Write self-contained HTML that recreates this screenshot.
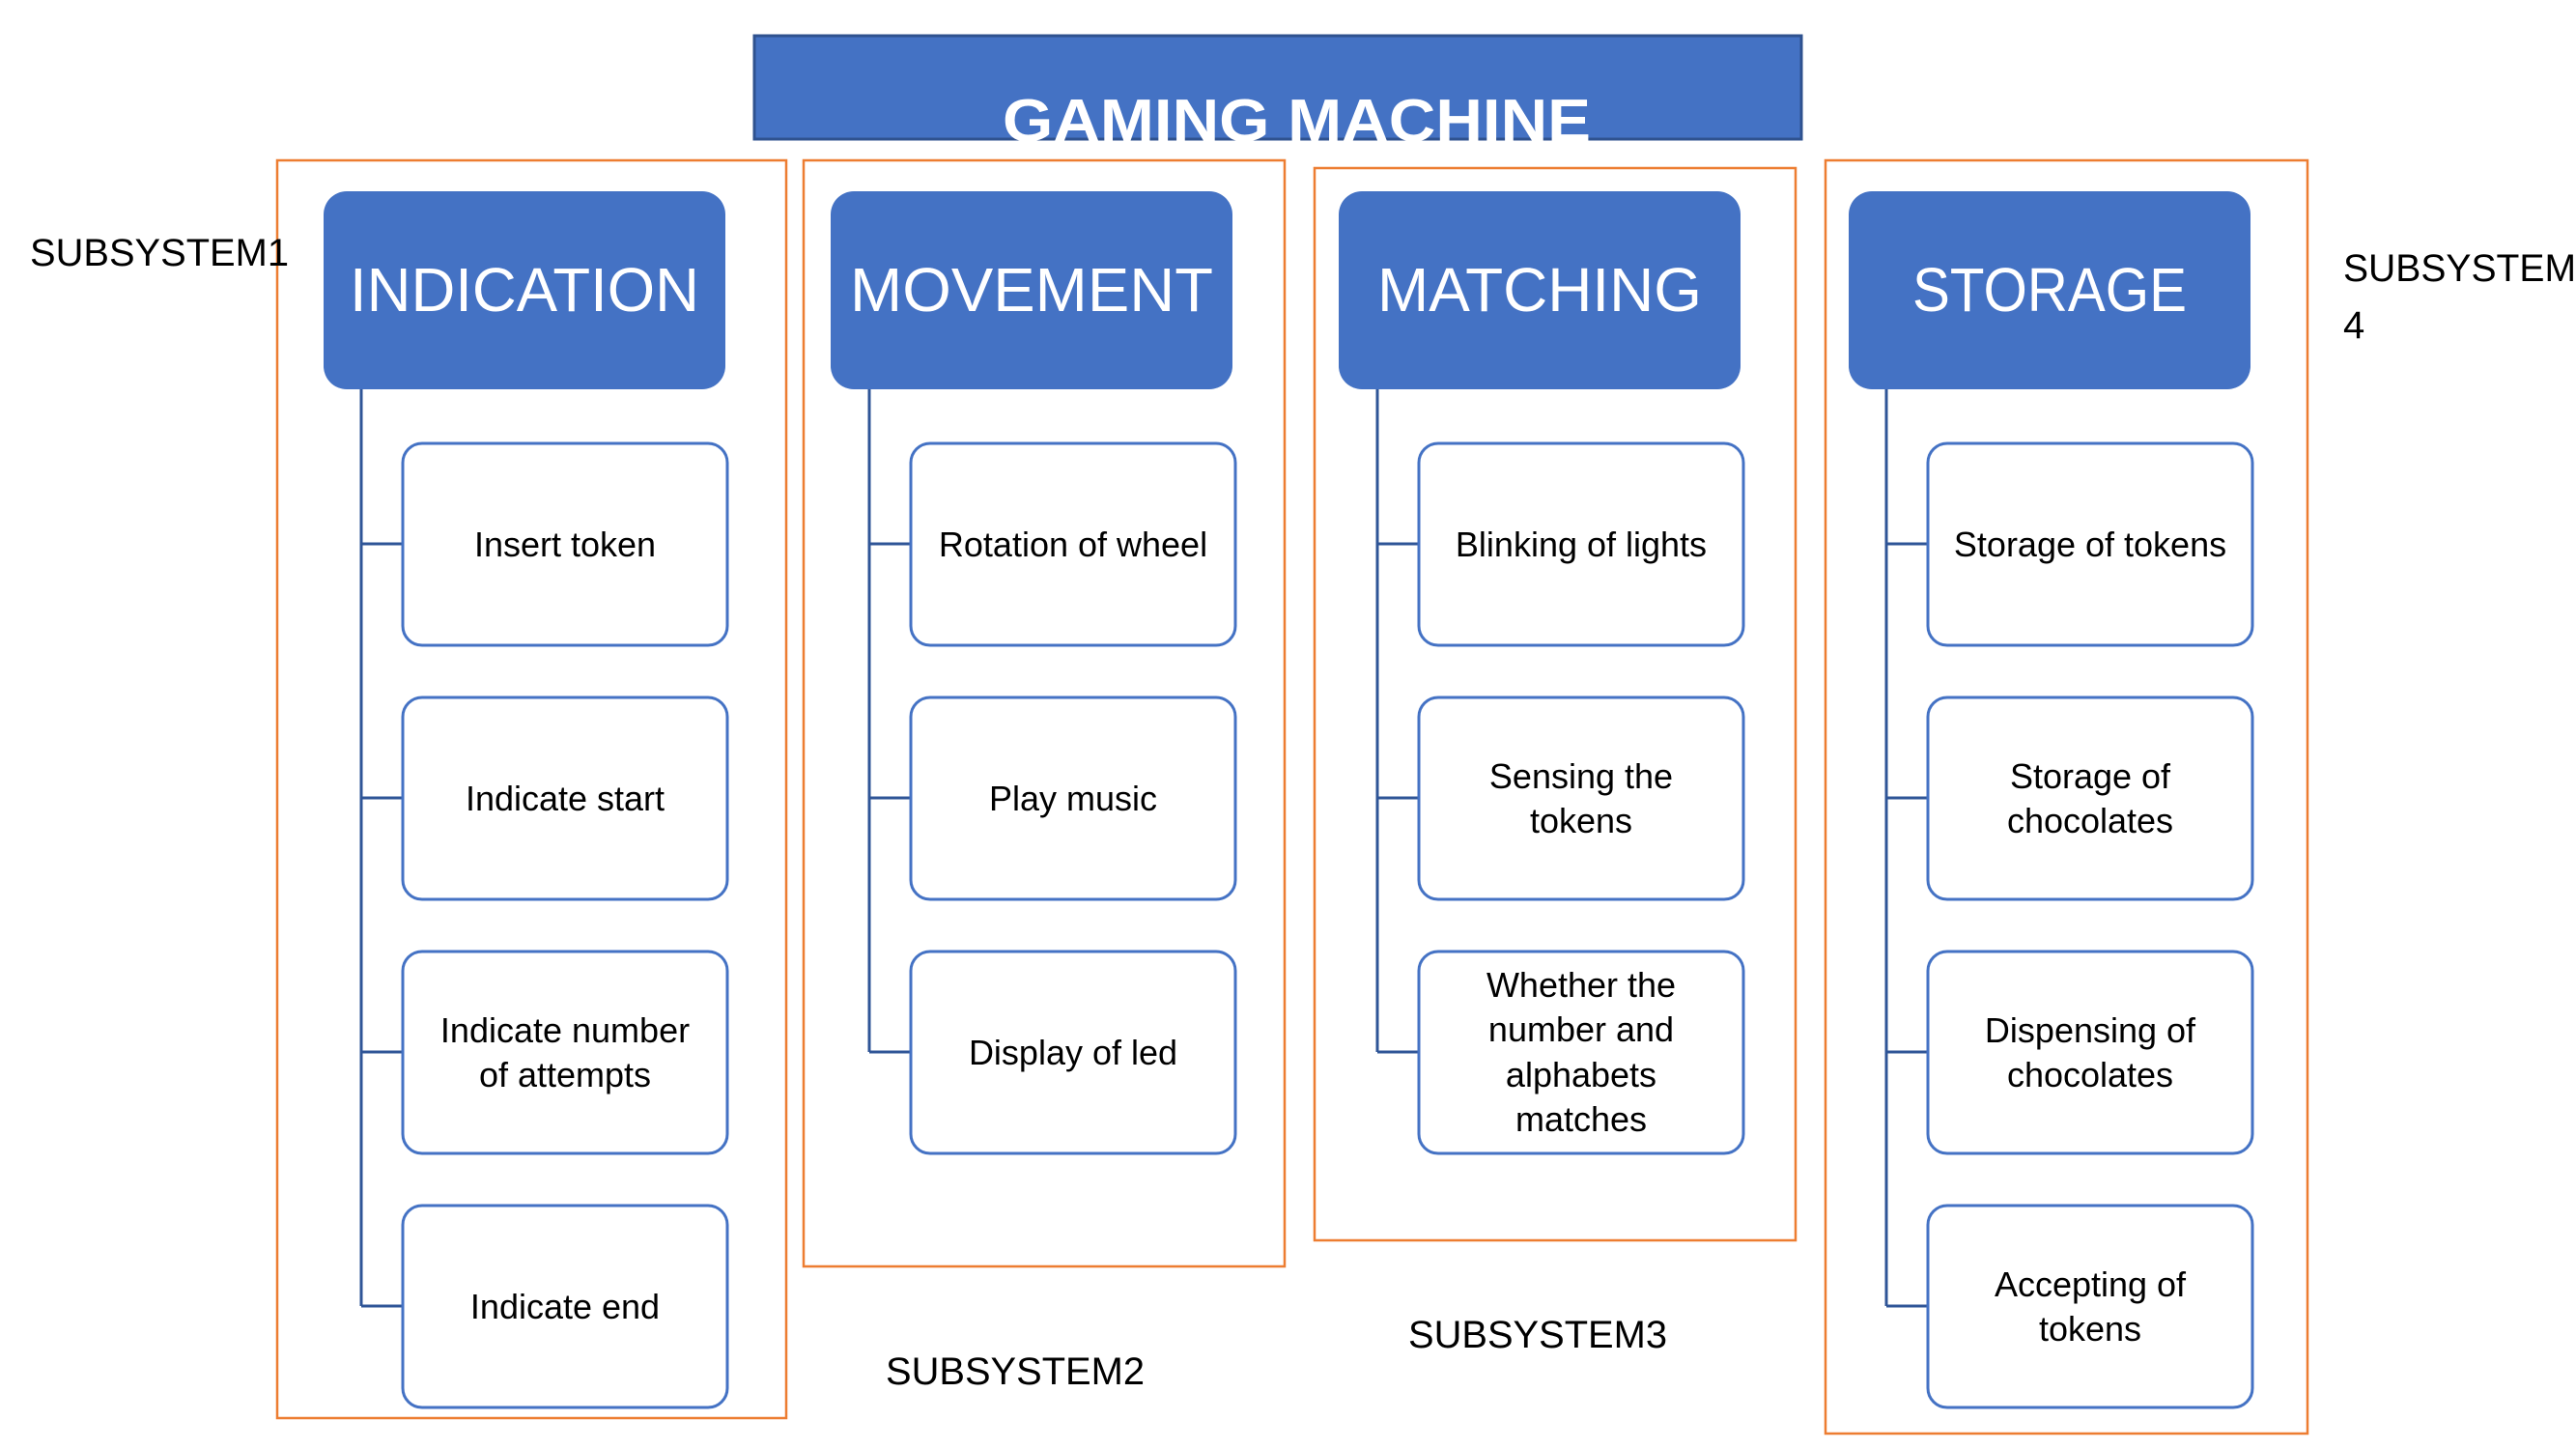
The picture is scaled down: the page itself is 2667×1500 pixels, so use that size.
<!DOCTYPE html>
<html><head><meta charset="utf-8"><style>html,body{margin:0;padding:0;background:#fff}svg{display:block}</style></head>
<body>
<svg width="2667" height="1500" viewBox="0 0 2667 1500" xmlns="http://www.w3.org/2000/svg" font-family="'Liberation Sans', sans-serif">
<defs><clipPath id="tc"><rect x="780" y="36" width="1086" height="110"/></clipPath></defs>
<rect x="781" y="37" width="1084" height="107" fill="#4472C4" stroke="#2F528F" stroke-width="3"/>
<text x="1038" y="146" font-size="62" font-weight="bold" fill="#fff" textLength="609" lengthAdjust="spacingAndGlyphs" clip-path="url(#tc)">GAMING MACHINE</text>

<g fill="none" stroke="#ED7D31" stroke-width="2.5">
<rect x="287" y="166" width="527" height="1302"/>
<rect x="832" y="166" width="498" height="1145"/>
<rect x="1361" y="174" width="498" height="1110"/>
<rect x="1890" y="166" width="499" height="1318"/>
</g>

<g font-size="40" fill="#000">
<text x="31" y="275" textLength="268" lengthAdjust="spacingAndGlyphs">SUBSYSTEM1</text>
<text x="917" y="1433" textLength="268" lengthAdjust="spacingAndGlyphs">SUBSYSTEM2</text>
<text x="1458" y="1395" textLength="268" lengthAdjust="spacingAndGlyphs">SUBSYSTEM3</text>
<text x="2426" y="291" textLength="241" lengthAdjust="spacingAndGlyphs">SUBSYSTEM</text>
<text x="2426" y="350">4</text>
</g>

<!-- columns -->
<g id="c1">
<rect x="335" y="198" width="416" height="205" rx="24" fill="#4472C4"/>
<text x="543" y="322" font-size="64" fill="#fff" text-anchor="middle" textLength="362" lengthAdjust="spacingAndGlyphs">INDICATION</text>
</g>
<rect x="860" y="198" width="416" height="205" rx="24" fill="#4472C4"/>
<text x="1068" y="322" font-size="64" fill="#fff" text-anchor="middle" textLength="376" lengthAdjust="spacingAndGlyphs">MOVEMENT</text>
<rect x="1386" y="198" width="416" height="205" rx="24" fill="#4472C4"/>
<text x="1594" y="322" font-size="64" fill="#fff" text-anchor="middle" textLength="336" lengthAdjust="spacingAndGlyphs">MATCHING</text>
<rect x="1914" y="198" width="416" height="205" rx="24" fill="#4472C4"/>
<text x="2122" y="322" font-size="64" fill="#fff" text-anchor="middle" textLength="284" lengthAdjust="spacingAndGlyphs">STORAGE</text>

<g stroke="#2F5597" stroke-width="3" fill="none">
<path d="M374 403V1352M374 563H417M374 826H417M374 1089H417M374 1352H417"/>
<path d="M900 403V1089M900 563H943M900 826H943M900 1089H943"/>
<path d="M1426 403V1089M1426 563H1469M1426 826H1469M1426 1089H1469"/>
<path d="M1953 403V1352M1953 563H1996M1953 826H1996M1953 1089H1996M1953 1352H1996"/>
</g>

<g fill="#fff" stroke="#4472C4" stroke-width="3">
<rect x="417" y="459" width="336" height="209" rx="20"/>
<rect x="417" y="722" width="336" height="209" rx="20"/>
<rect x="417" y="985" width="336" height="209" rx="20"/>
<rect x="417" y="1248" width="336" height="209" rx="20"/>
<rect x="943" y="459" width="336" height="209" rx="20"/>
<rect x="943" y="722" width="336" height="209" rx="20"/>
<rect x="943" y="985" width="336" height="209" rx="20"/>
<rect x="1469" y="459" width="336" height="209" rx="20"/>
<rect x="1469" y="722" width="336" height="209" rx="20"/>
<rect x="1469" y="985" width="336" height="209" rx="20"/>
<rect x="1996" y="459" width="336" height="209" rx="20"/>
<rect x="1996" y="722" width="336" height="209" rx="20"/>
<rect x="1996" y="985" width="336" height="209" rx="20"/>
<rect x="1996" y="1248" width="336" height="209" rx="20"/>
</g>

<g font-size="36" fill="#000" text-anchor="middle">
<text x="585" y="576">Insert token</text>
<text x="585" y="839">Indicate start</text>
<text x="585" y="1079">Indicate number</text>
<text x="585" y="1125">of attempts</text>
<text x="585" y="1365">Indicate end</text>

<text x="1111" y="576">Rotation of wheel</text>
<text x="1111" y="839">Play music</text>
<text x="1111" y="1102">Display of led</text>

<text x="1637" y="576">Blinking of lights</text>
<text x="1637" y="816">Sensing the</text>
<text x="1637" y="862">tokens</text>
<text x="1637" y="1032">Whether the</text>
<text x="1637" y="1078">number and</text>
<text x="1637" y="1125">alphabets</text>
<text x="1637" y="1171">matches</text>

<text x="2164" y="576">Storage of tokens</text>
<text x="2164" y="816">Storage of</text>
<text x="2164" y="862">chocolates</text>
<text x="2164" y="1079">Dispensing of</text>
<text x="2164" y="1125">chocolates</text>
<text x="2164" y="1342">Accepting of</text>
<text x="2164" y="1388">tokens</text>
</g>
</svg>
</body></html>
